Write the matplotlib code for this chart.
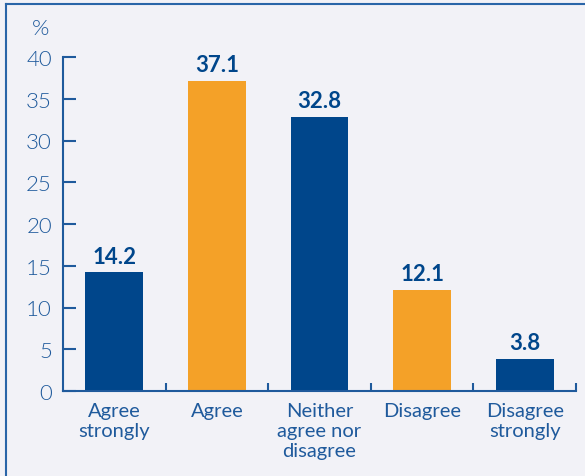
import matplotlib
matplotlib.use("Agg")
import matplotlib.pyplot as plt
from matplotlib.lines import Line2D

categories = ["Agree\nstrongly", "Agree", "Neither\nagree nor\ndisagree", "Disagree", "Disagree\nstrongly"]
values = [14.2, 37.1, 32.8, 12.1, 3.8]
yticks = [0, 5, 10, 15, 20, 25, 30, 35, 40]

navy = "#00468b"
orange = "#f4a128"
txt = "#1f5a9c"
bg = "#f2f2f7"

plt.rcParams['font.family'] = ['Lato', 'DejaVu Sans']

fig = plt.figure(figsize=(5.85, 4.77), dpi=100)
fig.patch.set_facecolor(bg)
ax = fig.add_axes([63/585, 1-392/477, (576-63)/585, (392-58)/477])
ax.set_facecolor(bg)

colors = [navy, orange, navy, orange, navy]
x = list(range(len(values)))
ax.bar(x, values, width=0.565, color=colors, zorder=2)
for xi, v in zip(x, values):
    ax.text(xi, v + 0.7, f"{v:.1f}", ha="center", va="bottom", fontsize=16,
            fontweight="bold", color=navy)

ax.set_xlim(-0.5, 4.5)
ax.set_ylim(0, 40)
ax.set_yticks(yticks)
ax.set_yticklabels([str(t) for t in yticks], fontsize=16, color=txt, fontweight=300)
ax.set_xticks([i + 0.5 for i in range(len(values))])
ax.set_xticklabels([])
ax.set_xticks(x, minor=True)
ax.set_xticklabels(categories, minor=True, fontsize=14.5, color=txt, linespacing=1.22)
ax.tick_params(axis="x", which="minor", length=0, pad=8)
ax.tick_params(axis="x", which="major", direction="in", length=6, width=1.5, color=txt)
ax.tick_params(axis="y", direction="in", length=9.5, width=1.5, color=txt, pad=8)
for s in ["top", "right"]:
    ax.spines[s].set_visible(False)
for s in ["left", "bottom"]:
    ax.spines[s].set_color(txt)
    ax.spines[s].set_linewidth(1.5)

fig.text(41/585, 1-29/477, "%", ha="center", va="center", fontsize=16, color=txt,
         fontweight=300)

# frame
fig.add_artist(Line2D([6/585, 6/585], [0, 1-5/477], transform=fig.transFigure, color="#2a65a8", lw=1.5))
fig.add_artist(Line2D([6/585, 1], [1-5/477, 1-5/477], transform=fig.transFigure, color="#2a65a8", lw=1.5))

fig.savefig("out.png", dpi=100, facecolor=bg)
